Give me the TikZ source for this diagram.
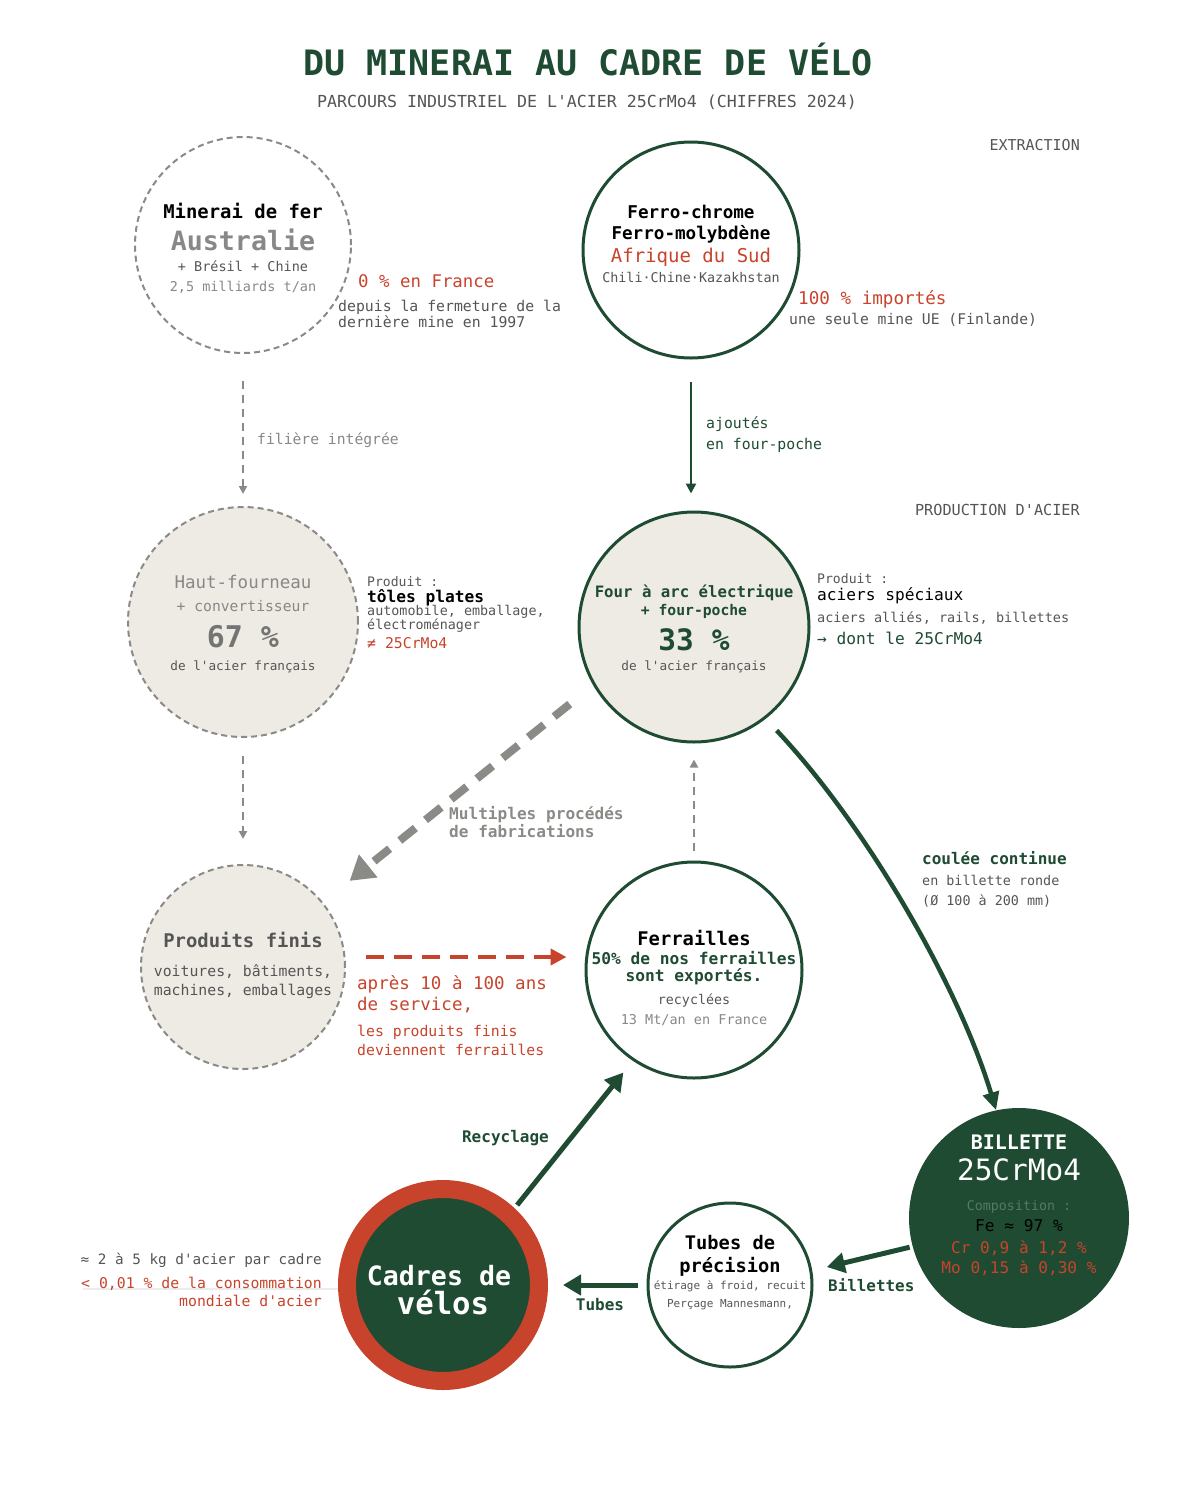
\documentclass[tikz,border=0pt]{standalone}
\usepackage{fontspec}
\setmonofont{DejaVu Sans Mono}
\renewcommand{\familydefault}{\ttdefault}
\usetikzlibrary{arrows.meta, positioning, calc}
\definecolor{forest}{HTML}{1E4B32}
\definecolor{brick}{HTML}{C8432B}
\definecolor{sand}{HTML}{EEEBE4}
\definecolor{ash}{HTML}{8A8A86}
\definecolor{slate}{HTML}{555555}
\definecolor{mist}{HTML}{888888}
\newcommand{\fsz}[2]{\fontsize{#1}{#2}\selectfont}
\tikzset{
    disc/.style={circle, minimum size=#1, inner sep=0pt},
    dashring/.style={draw=ash, line width=2pt, dash pattern=on 6pt off 4pt},
    greenring/.style={draw=forest, line width=3pt},
    txt/.style={inner sep=0pt, align=center},
    note/.style={inner sep=0pt, align=left, anchor=west},
    flow/.style={draw=forest, line width=5pt, -{Triangle[length=18pt, width=20pt]}},
    thinflow/.style={draw=forest, line width=2.5pt, -{Triangle[length=10pt, width=10pt]}},
    greyflow/.style={draw=ash, line width=2pt, dash pattern=on 8pt off 6pt, -{Triangle[length=8pt, width=8pt]}},
    bigdash/.style={draw=ash, line width=8pt, dash pattern=on 20pt off 13pt, -{Triangle[length=24pt, width=28pt]}},
    reddash/.style={draw=brick, line width=4pt, dash pattern=on 18pt off 10pt, -{Triangle[length=16pt, width=16pt]}},
    curveflow/.style={draw=forest, line width=4.5pt, -{Triangle[length=18pt, width=16pt]}}
}

\begin{document}
\begin{tikzpicture}[x=1pt, y=-1pt]
    \useasboundingbox (0,0) rectangle (1200,1500);

    \node[txt, text=forest, font=\fsz{35}{40}\bfseries] (title) at (588,60) {DU MINERAI AU CADRE DE VÉLO};
    \node[txt, text=slate, font=\fsz{16.6}{20}] (subtitle) at (587,102) {PARCOURS INDUSTRIEL DE L'ACIER 25CrMo4 (CHIFFRES 2024)};
    \node[txt, anchor=east, text=slate, font=\fsz{15}{18}] (extraction) at (1080,145) {EXTRACTION};
    \node[txt, anchor=east, text=slate, font=\fsz{15.2}{18}] (production) at (1080,510) {PRODUCTION D'ACIER};

    % cercles
    \node[disc=216pt, dashring, fill=white] (minerai) at (243,245) {};
    \node[disc=216pt, greenring, fill=white] (ferro) at (691,250) {};
    \node[disc=230pt, dashring, fill=sand] (hautfourneau) at (243,622) {};
    \node[disc=230pt, greenring, fill=sand] (fourarc) at (694,627) {};
    \node[disc=204pt, dashring, fill=sand] (produitsfinis) at (243,967) {};
    \node[disc=216pt, greenring, fill=white] (ferrailles) at (694,970) {};
    \node[disc=220pt, fill=forest] (billette) at (1019,1218) {};
    \node[disc=164pt, greenring, fill=white] (tubes) at (730,1285) {};
    \node[disc=192pt, draw=brick, line width=18pt, fill=forest] (cadres) at (443,1285) {};

    % extraction
    \node[txt, font=\fsz{18.9}{22}\bfseries] (minerainame) at (243,211) {Minerai de fer};
    \node[txt, text=mist, font=\fsz{26.6}{30}\bfseries] (australie) at (243,240) {Australie};
    \node[txt, text=slate, font=\fsz{13.5}{16}] (bresil) at (243,266) {+ Brésil + Chine};
    \node[txt, text=mist, font=\fsz{13.5}{16}] (tonnage) at (243,287) {2,5 milliards t/an};
    \node[note, text=brick, font=\fsz{17.4}{20}] (zerofrance) at (358,281) {0 \% en France};
    \node[note, text=slate, font=\fsz{14.8}{16}] (fermeture) at (338,314) {depuis la fermeture de la\\dernière mine en 1997};

    \node[txt, font=\fsz{17.6}{21}\bfseries] (ferroname) at (691,224) {Ferro-chrome\\Ferro-molybdène};
    \node[txt, text=brick, font=\fsz{19}{22}] (afrique) at (691,257) {Afrique du Sud};
    \node[txt, text=slate, font=\fsz{13.4}{16}] (pays) at (691,277) {Chili·Chine·Kazakhstan};
    \node[note, text=brick, font=\fsz{17.6}{20}] (importes) at (798,299) {100 \% importés};
    \node[note, text=slate, font=\fsz{14.7}{17}] (finlande) at (789,320) {une seule mine UE (Finlande)};

    \draw[greyflow, shorten <=27pt, shorten >=12pt] (minerai) -- (hautfourneau);
    \node[note, text=mist, font=\fsz{14.7}{17}] (filiere) at (257,440) {filière intégrée};
    \draw[thinflow, shorten <=22pt, shorten >=17pt] (ferro.south) -- (ferro.south |- fourarc.north);
    \node[note, text=forest, font=\fsz{14.8}{21}] (ajoutes) at (706,435) {ajoutés\\en four-poche};

    % production
    \node[txt, text=mist, font=\fsz{17.5}{20}] (hfname) at (243,582) {Haut-fourneau};
    \node[txt, text=mist, font=\fsz{14.7}{17}] (convertisseur) at (243,606) {+ convertisseur};
    \node[txt, text=mist!85!black, font=\fsz{29.9}{34}\bfseries] (part67) at (243,637) {67 \%};
    \node[txt, text=slate, font=\fsz{12.7}{15}] (acierhf) at (243,667) {de l'acier français};
    \node[note, text=slate, font=\fsz{13.1}{15}] (produithf) at (367,582) {Produit :};
    \node[note, font=\fsz{16.2}{18}\bfseries] (toles) at (367,598) {tôles plates};
    \node[note, text=slate, font=\fsz{13.4}{14}] (usages) at (367,619) {automobile, emballage,\\électroménager};
    \node[note, text=brick, font=\fsz{14.8}{17}] (different) at (367,643) {≠ 25CrMo4};

    \node[txt, text=forest, font=\fsz{15.7}{18}\bfseries] (fourname) at (694,593) {Four à arc électrique};
    \node[txt, text=forest, font=\fsz{14.7}{17}\bfseries] (fourpoche) at (694,611) {+ four-poche};
    \node[txt, text=forest, font=\fsz{29.5}{34}\bfseries] (part33) at (694,640) {33 \%};
    \node[txt, text=slate, font=\fsz{12.7}{15}] (acierfour) at (694,667) {de l'acier français};
    \node[note, text=slate, font=\fsz{13.1}{15}] (produitfour) at (817,579) {Produit :};
    \node[note, font=\fsz{16.2}{18}] (speciaux) at (817,596) {aciers spéciaux};
    \node[note, text=slate, font=\fsz{13.5}{16}] (allies) at (817,618) {aciers alliés, rails, billettes};
    \node[note, text=forest, font=\fsz{16.2}{18}] (dontle) at (817,638) {→ dont le 25CrMo4};

    \draw[bigdash, shorten <=30pt, shorten >=34pt] (fourarc.210) -- (produitsfinis.39);
    \node[note, text=ash, font=\fsz{16.1}{16}\bfseries] (procedes) at (449,822) {Multiples procédés\\de fabrications};
    \draw[greyflow, shorten <=18pt, shorten >=25pt] (hautfourneau) -- (produitsfinis);
    \draw[greyflow, shorten <=10pt, shorten >=16pt] (ferrailles) -- (fourarc);

    \draw[curveflow, shorten <=16pt] (fourarc.-52) .. controls (870,830) and (960,990) .. (billette.102);
    \node[note, text=forest, font=\fsz{16}{18}\bfseries] (coulee) at (922,858) {coulée continue};
    \node[note, text=slate, font=\fsz{13.4}{20}] (ronde) at (922,891) {en billette ronde\\(Ø 100 à 200 mm)};

    % recyclage
    \node[txt, text=slate, font=\fsz{18.9}{22}\bfseries] (finisname) at (243,940) {Produits finis};
    \node[txt, text=slate, font=\fsz{14.8}{19}] (exemples) at (243,982) {voitures, bâtiments,\\machines, emballages};
    \coordinate (finvie) at ([yshift=10pt]produitsfinis.east);
    \draw[reddash, shorten <=20pt, shorten >=18pt] (finvie) -- (finvie -| ferrailles.west);
    \node[note, text=brick, font=\fsz{17.5}{21}] (apres) at (357,994) {après 10 à 100 ans\\de service,};
    \node[note, text=brick, font=\fsz{14.8}{19}] (deviennent) at (357,1040) {les produits finis\\deviennent ferrailles};

    \node[txt, font=\fsz{18.8}{22}\bfseries] (ferraillesname) at (694,938) {Ferrailles};
    \node[txt, text=forest, font=\fsz{16.2}{17}\bfseries] (exportes) at (694,968) {50\% de nos ferrailles\\sont exportés.};
    \node[txt, text=slate, font=\fsz{13.3}{16}] (recyclees) at (694,1001) {recyclées};
    \node[txt, text=mist, font=\fsz{13.5}{16}] (volume) at (694,1020) {13 Mt/an en France};

    \draw[flow, shorten <=4pt, shorten >=15pt] (cadres.47) -- (ferrailles.236);
    \node[txt, anchor=east, text=forest, font=\fsz{16}{18}\bfseries] (recyclage) at (549,1138) {Recyclage};

    % transformation
    \node[txt, text=white, font=\fsz{20}{22}\bfseries] (billettename) at (1019,1142) {BILLETTE};
    \node[txt, text=white, font=\fsz{29.4}{32}] (nuance) at (1019,1170) {25CrMo4};
    \node[txt, text=forest!75!white, font=\fsz{13.3}{16}] (composition) at (1019,1207) {Composition :};
    \node[txt, text=black, font=\fsz{16.2}{18}] (fer) at (1019,1226) {Fe ≈ 97 \%};
    \node[txt, text=brick, font=\fsz{16.1}{20}] (alliage) at (1019,1258) {Cr 0,9 à 1,2 \%\\Mo 0,15 à 0,30 \%};

    \draw[flow, shorten <=3pt, shorten >=15pt] (billette.195) -- (tubes.10);
    \node[note, text=forest, font=\fsz{15.9}{18}\bfseries] (billettes) at (828,1285) {Billettes};

    \node[txt, font=\fsz{18.7}{23}\bfseries] (tubesname) at (730,1256) {Tubes de\\précision};
    \node[txt, text=slate, font=\fsz{11}{18}] (procede) at (730,1295) {étirage à froid, recuit\\Perçage Mannesmann,};

    \draw[flow, shorten <=9pt, shorten >=15pt] (tubes) -- (cadres);
    \node[txt, text=forest, font=\fsz{16}{18}\bfseries] (tubeslabel) at (600,1305) {Tubes};

    \node[txt, text=white, font=\fsz{26.6}{26}\bfseries] (cadresname) at (439,1276) {Cadres de};
    \node[txt, text=white, font=\fsz{30.6}{32}\bfseries] (velos) at (443,1302) {vélos};

    \coordinate (regle) at (83,1289);
    \draw[gray!15, line width=1.5pt] (regle) -- (regle -| cadres.west);
    \node[txt, anchor=east, text=slate, font=\fsz{14.3}{17}] (parcadre) at (322,1260) {≈ 2 à 5 kg d'acier par cadre};
    \node[txt, anchor=east, align=right, text=brick, font=\fsz{14.8}{18}] (consommation) at (322,1292) {< 0,01 \% de la consommation\\mondiale d'acier};
\end{tikzpicture}
\end{document}
